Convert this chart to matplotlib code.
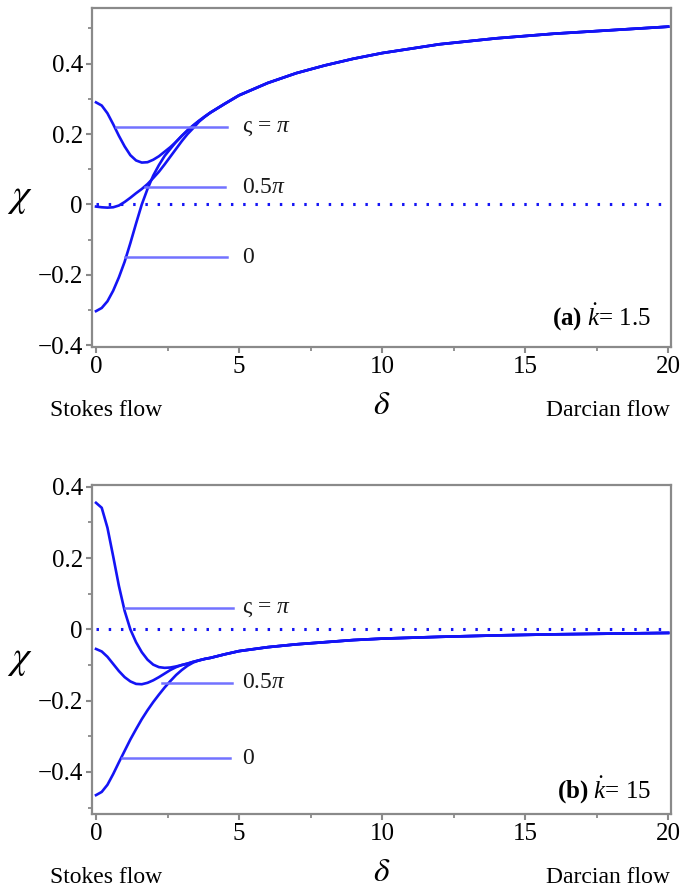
import numpy as np
import matplotlib
matplotlib.use("Agg")
import matplotlib.pyplot as plt
from matplotlib.ticker import MultipleLocator

plt.rcParams["font.family"] = ["Liberation Serif", "DejaVu Serif"]
plt.rcParams["mathtext.fontset"] = "custom"
plt.rcParams["mathtext.rm"] = "Liberation Serif"
plt.rcParams["mathtext.it"] = "Liberation Serif:italic"
plt.rcParams["mathtext.bf"] = "Liberation Serif:bold"

# ---------------- DATA ---------------- #

delta = [0, 0.2, 0.4, 0.6, 0.8, 1.0, 1.2, 1.4, 1.6, 1.8, 2.0, 2.2, 2.4, 2.6,
         2.8, 3.0, 3.2, 3.4, 3.6, 3.8, 4.0, 4.5, 5, 6, 7, 8, 9, 10, 12, 14,
         16, 18, 20]

# panel (a), k = 1.5 -- curves share one tail from delta = 4 on
tail_a = [0.261, 0.286, 0.310, 0.345, 0.373, 0.395, 0.414, 0.430, 0.455,
          0.472, 0.485, 0.495, 0.505]
chi_a_pi = [0.290, 0.281, 0.259, 0.228, 0.195, 0.165, 0.140, 0.125, 0.119,
            0.120, 0.127, 0.137, 0.150, 0.163, 0.178, 0.195, 0.211, 0.225,
            0.238, 0.250] + tail_a
chi_a_half = [-0.006, -0.008, -0.009, -0.008, -0.003, 0.007, 0.019, 0.032,
              0.044, 0.058, 0.075, 0.093, 0.114, 0.136, 0.158, 0.180, 0.200,
              0.217, 0.235, 0.249] + tail_a
chi_a_zero = [-0.303, -0.294, -0.275, -0.245, -0.207, -0.163, -0.110, -0.054,
              0.000, 0.044, 0.082, 0.112, 0.138, 0.158, 0.178, 0.195, 0.210,
              0.224, 0.237, 0.249] + tail_a

# panel (b), k = 15 -- shared tail from delta = 3.6 on
tail_b = [-0.087, -0.083, -0.080, -0.070, -0.061, -0.050, -0.042, -0.036,
          -0.030, -0.026, -0.021, -0.017, -0.014, -0.012, -0.010]
chi_b_pi = [0.355, 0.341, 0.285, 0.205, 0.122, 0.052, 0.000, -0.036, -0.064,
            -0.085, -0.099, -0.106, -0.108, -0.107, -0.104, -0.100, -0.096,
            -0.091] + tail_b
chi_b_half = [-0.055, -0.062, -0.077, -0.097, -0.117, -0.134, -0.146, -0.153,
              -0.154, -0.150, -0.143, -0.134, -0.124, -0.114, -0.106, -0.100,
              -0.096, -0.091] + tail_b
chi_b_zero = [-0.465, -0.456, -0.436, -0.406, -0.373, -0.341, -0.309, -0.280,
              -0.252, -0.227, -0.204, -0.183, -0.163, -0.145, -0.128, -0.114,
              -0.102, -0.093] + tail_b

curve_labels = [r"ς = $\pi$", r"0.5$\pi$", "0"]

# label leader lines: (start, end, level)
leaders_a = [(0.70, 4.57, 0.220), (1.71, 4.51, 0.049), (1.01, 4.57, -0.150)]
leaders_b = [(1.01, 4.80, 0.059), (2.30, 4.74, -0.150), (0.90, 4.69, -0.362)]

panels = [
    dict(curves=[chi_a_pi, chi_a_half, chi_a_zero], leaders=leaders_a,
         ylim=(-0.405, 0.558), chi_y=0.02,
         tag=r"$\mathbf{(a)}$ $\dot{k}$= 1.5", tag_y=-0.345,
         rect=[0.1349, 0.6105, 0.849, 0.3805]),
    dict(curves=[chi_b_pi, chi_b_half, chi_b_zero], leaders=leaders_b,
         ylim=(-0.518, 0.405), chi_y=-0.084,
         tag=r"$\mathbf{(b)}$ $\dot{k}$= 15", tag_y=-0.475,
         rect=[0.1349, 0.0864, 0.849, 0.3693]),
]

# ---------------- PLOT ---------------- #

curve_col = "#1414f5"
leader_col = "#7272ff"
spine_col = "#8a8a8a"

fig = plt.figure(figsize=(6.82, 8.91), dpi=100)

for p in panels:
    ax = fig.add_axes(p["rect"])
    ax.plot([0, 20], [0, 0], color=curve_col, lw=2.2, linestyle=(0, (0.8, 3.2)))
    for y in p["curves"]:
        ax.plot(delta, y, color=curve_col, lw=1.9, solid_joinstyle="round")
    for (x0, x1, lev), lab in zip(p["leaders"], curve_labels):
        ax.plot([x0, x1], [lev, lev], color=leader_col, lw=1.8)
        ax.text(5.1, lev, lab, fontsize=17, va="center", ha="left", color="#1a1a1a")

    ax.text(19.4, p["tag_y"], p["tag"], fontsize=18, ha="right", va="baseline")

    ax.set_xlim(-0.14, 20.1)
    ax.set_ylim(*p["ylim"])
    ax.xaxis.set_major_locator(MultipleLocator(5))
    ax.xaxis.set_minor_locator(MultipleLocator(2.5))
    ax.yaxis.set_minor_locator(MultipleLocator(0.1))
    ax.set_yticks(np.arange(-0.4, 0.41, 0.2))
    ax.set_yticklabels(["\u22120.4", "\u22120.2", "0", "0.2", "0.4"])
    ax.tick_params(which="major", direction="out", length=4, width=1.5,
                   color=spine_col, labelsize=18, pad=2.5)
    ax.tick_params(which="minor", direction="out", length=3, width=1.3,
                   color=spine_col)
    for s in ax.spines.values():
        s.set_color(spine_col)
        s.set_linewidth(1.6)

    ax.annotate(r"$\chi$", xy=(0, p["chi_y"]), xycoords=ax.get_yaxis_transform(),
                xytext=(-52, 0), textcoords="offset points", fontsize=28,
                ha="center", va="center", math_fontfamily="stix")
    ax.annotate(r"$\delta$", xy=(0.5, 0), xycoords="axes fraction",
                xytext=(0, -42), textcoords="offset points", fontsize=24,
                ha="center", va="center", math_fontfamily="stix")
    ax.annotate("Stokes flow", xy=(-0.073, 0), xycoords="axes fraction",
                xytext=(0, -46), textcoords="offset points", fontsize=17,
                ha="left", va="center")
    ax.annotate("Darcian flow", xy=(0.998, 0), xycoords="axes fraction",
                xytext=(0, -46), textcoords="offset points", fontsize=17,
                ha="right", va="center")

fig.savefig("out.png", dpi=100)
